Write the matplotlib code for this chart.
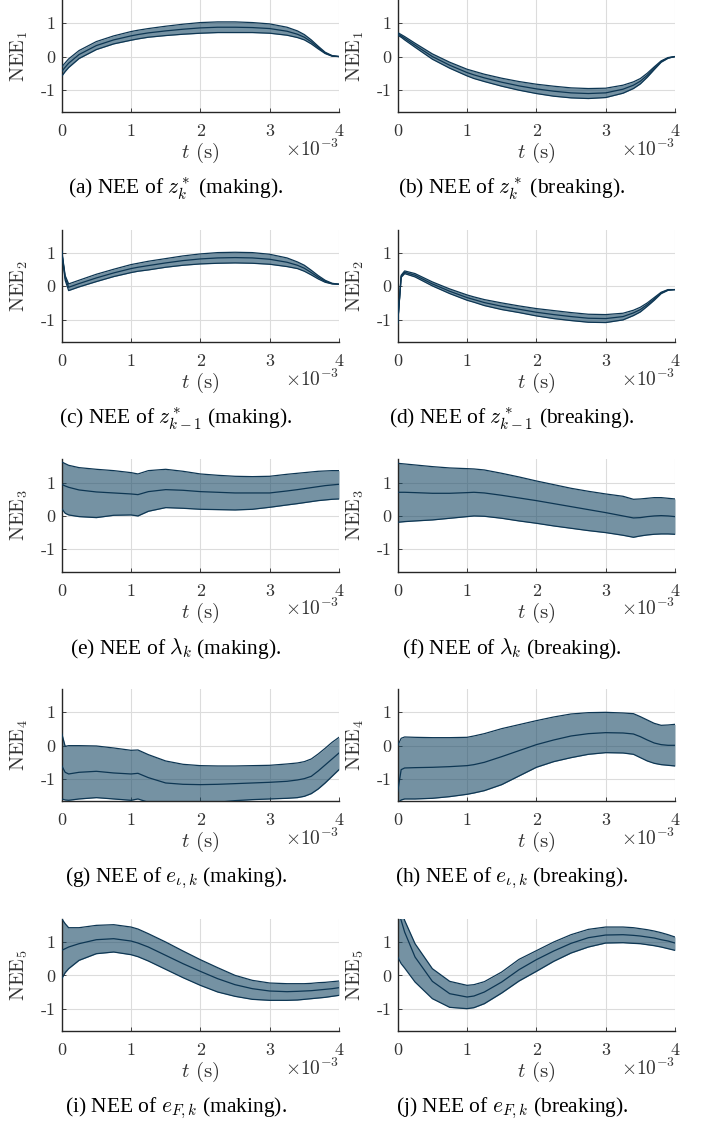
import numpy as np
import matplotlib
matplotlib.use('Agg')
from matplotlib import pyplot as plt

plt.rcParams['mathtext.fontset'] = 'cm'
plt.rcParams['font.family'] = ['Liberation Serif', 'DejaVu Serif']
plt.rcParams['axes.unicode_minus'] = False

# time axis (x 1e-3 s)
t_ms = [0, 0.05, 0.1, 0.25, 0.5, 0.75, 1.0, 1.1, 1.25, 1.5, 1.75, 2.0, 2.25, 2.5,
        2.75, 3.0, 3.25, 3.4, 3.5, 3.6, 3.7, 3.8, 3.9, 4.0]

# (a) z_k^* making
a_mid = [-0.45, -0.32, -0.2, 0.06, 0.33, 0.5, 0.62, 0.66, 0.71, 0.77, 0.82, 0.86, 0.88, 0.88,
         0.87, 0.84, 0.76, 0.67, 0.58, 0.44, 0.27, 0.11, 0.02, 0.0]
a_lo = [-0.59, -0.45, -0.33, -0.06, 0.21, 0.38, 0.49, 0.53, 0.58, 0.63, 0.67, 0.70, 0.72, 0.72,
        0.72, 0.70, 0.64, 0.57, 0.50, 0.38, 0.23, 0.09, 0.01, 0.0]
a_hi = [-0.31, -0.19, -0.07, 0.18, 0.45, 0.62, 0.75, 0.79, 0.84, 0.91, 0.97, 1.02, 1.04, 1.04,
        1.02, 0.98, 0.88, 0.77, 0.66, 0.50, 0.31, 0.13, 0.03, 0.0]

# (b) z_k^* breaking
b_mid = [0.68, 0.62, 0.55, 0.34, 0.0, -0.26, -0.48, -0.55, -0.64, -0.77, -0.88, -0.97, -1.04, -1.09,
         -1.11, -1.09, -0.98, -0.86, -0.74, -0.56, -0.35, -0.15, -0.04, 0.0]
b_lo = [0.64, 0.58, 0.50, 0.28, -0.08, -0.35, -0.58, -0.66, -0.75, -0.89, -1.01, -1.11, -1.19, -1.24,
        -1.26, -1.23, -1.10, -0.96, -0.82, -0.62, -0.39, -0.17, -0.05, 0.0]
b_hi = [0.72, 0.66, 0.60, 0.40, 0.08, -0.17, -0.38, -0.44, -0.53, -0.65, -0.75, -0.83, -0.89, -0.94,
        -0.96, -0.95, -0.86, -0.76, -0.66, -0.50, -0.31, -0.13, -0.03, 0.0]

# (c) z_{k-1}^* making
c_mid = [1.05, 0.25, -0.03, 0.08, 0.25, 0.4, 0.53, 0.57, 0.62, 0.7, 0.77, 0.82, 0.85, 0.86,
         0.85, 0.81, 0.72, 0.63, 0.54, 0.41, 0.27, 0.15, 0.08, 0.06]
c_lo = [1.03, 0.18, -0.13, -0.02, 0.14, 0.29, 0.41, 0.45, 0.49, 0.57, 0.63, 0.67, 0.69, 0.70,
        0.69, 0.66, 0.59, 0.53, 0.45, 0.34, 0.22, 0.12, 0.07, 0.06]
c_hi = [1.07, 0.32, 0.07, 0.18, 0.36, 0.51, 0.65, 0.69, 0.75, 0.83, 0.91, 0.97, 1.01, 1.02,
        1.01, 0.96, 0.85, 0.73, 0.63, 0.48, 0.32, 0.18, 0.09, 0.06]

# (d) z_{k-1}^* breaking
d_mid = [-1.1, 0.3, 0.42, 0.33, 0.07, -0.15, -0.34, -0.4, -0.49, -0.6, -0.69, -0.78, -0.85, -0.91,
         -0.96, -0.97, -0.91, -0.8, -0.7, -0.55, -0.38, -0.2, -0.11, -0.1]
d_lo = [-1.12, 0.27, 0.38, 0.28, 0.01, -0.22, -0.42, -0.48, -0.58, -0.70, -0.79, -0.89, -0.97, -1.03,
        -1.08, -1.09, -1.01, -0.88, -0.77, -0.60, -0.42, -0.22, -0.12, -0.10]
d_hi = [-1.08, 0.33, 0.46, 0.38, 0.13, -0.08, -0.26, -0.32, -0.40, -0.50, -0.59, -0.67, -0.73, -0.79,
        -0.84, -0.85, -0.81, -0.72, -0.63, -0.50, -0.34, -0.18, -0.10, -0.10]

# (e) lambda_k making
e_mid = [0.95, 0.9, 0.86, 0.78, 0.72, 0.69, 0.66, 0.64, 0.73, 0.79, 0.77, 0.73, 0.71, 0.69,
         0.69, 0.69, 0.75, 0.79, 0.82, 0.85, 0.88, 0.91, 0.93, 0.95]
e_lo = [0.22, 0.08, 0.03, -0.02, -0.05, 0.02, 0.03, 0.0, 0.14, 0.25, 0.23, 0.2, 0.19, 0.18,
        0.2, 0.26, 0.33, 0.37, 0.4, 0.43, 0.46, 0.48, 0.5, 0.51]
e_hi = [1.62, 1.57, 1.52, 1.45, 1.4, 1.36, 1.3, 1.26, 1.36, 1.4, 1.34, 1.26, 1.22, 1.19,
        1.18, 1.19, 1.25, 1.28, 1.3, 1.32, 1.34, 1.35, 1.36, 1.36]

# (f) lambda_k breaking
f_mid = [0.71, 0.71, 0.71, 0.7, 0.68, 0.68, 0.7, 0.71, 0.69, 0.62, 0.54, 0.46, 0.37, 0.28,
         0.19, 0.1, 0.0, -0.06, -0.05, -0.02, 0.0, 0.01, 0.0, -0.02]
f_lo = [-0.19, -0.18, -0.17, -0.15, -0.12, -0.07, -0.02, 0.0, -0.01, -0.07, -0.15, -0.22, -0.3, -0.37,
        -0.44, -0.5, -0.58, -0.64, -0.6, -0.57, -0.55, -0.54, -0.54, -0.55]
f_hi = [1.58, 1.57, 1.56, 1.53, 1.48, 1.44, 1.42, 1.41, 1.38, 1.28, 1.17, 1.05, 0.94, 0.83,
        0.74, 0.66, 0.59, 0.5, 0.51, 0.53, 0.55, 0.55, 0.53, 0.51]

# (g) e_iota,k making
g_mid = [-0.6, -0.8, -0.85, -0.8, -0.77, -0.82, -0.85, -0.83, -0.96, -1.12, -1.16, -1.17, -1.16, -1.14,
         -1.12, -1.1, -1.07, -1.03, -0.99, -0.92, -0.76, -0.58, -0.4, -0.22]
g_lo = [-1.6, -1.63, -1.64, -1.6, -1.56, -1.6, -1.64, -1.6, -1.7, -1.75, -1.76, -1.74, -1.7, -1.65,
        -1.62, -1.6, -1.58, -1.56, -1.52, -1.44, -1.3, -1.12, -0.92, -0.72]
g_hi = [0.37, -0.02, 0.0, 0.0, -0.01, -0.07, -0.14, -0.13, -0.27, -0.46, -0.56, -0.6, -0.61, -0.61,
        -0.6, -0.59, -0.55, -0.52, -0.48, -0.4, -0.25, -0.08, 0.1, 0.25]

# (h) e_iota,k breaking
h_mid = [-1.38, -0.72, -0.67, -0.66, -0.65, -0.63, -0.6, -0.57, -0.5, -0.33, -0.15, 0.03, 0.17, 0.29,
         0.36, 0.39, 0.38, 0.35, 0.27, 0.17, 0.08, 0.03, 0.01, 0.01]
h_lo = [-1.72, -1.63, -1.6, -1.6, -1.58, -1.53, -1.46, -1.42, -1.35, -1.17, -0.91, -0.65, -0.48, -0.36,
        -0.26, -0.21, -0.22, -0.26, -0.36, -0.46, -0.53, -0.57, -0.59, -0.61]
h_hi = [0.0, 0.22, 0.26, 0.25, 0.24, 0.24, 0.25, 0.29, 0.36, 0.51, 0.63, 0.75, 0.86, 0.95,
        0.99, 1.0, 0.98, 0.96, 0.87, 0.77, 0.67, 0.61, 0.62, 0.64]

# (i) e_F,k making
i_mid = [0.75, 0.8, 0.85, 0.95, 1.07, 1.1, 1.03, 0.97, 0.85, 0.6, 0.35, 0.12, -0.1, -0.28,
         -0.4, -0.47, -0.49, -0.48, -0.47, -0.46, -0.44, -0.42, -0.4, -0.37]
i_lo = [-0.1, 0.08, 0.2, 0.45, 0.65, 0.7, 0.62, 0.56, 0.43, 0.18, -0.07, -0.3, -0.5, -0.63,
        -0.72, -0.75, -0.75, -0.74, -0.72, -0.7, -0.68, -0.66, -0.63, -0.6]
i_hi = [1.7, 1.55, 1.43, 1.43, 1.5, 1.52, 1.45, 1.39, 1.25, 1.0, 0.73, 0.47, 0.23, 0.0,
        -0.15, -0.23, -0.25, -0.25, -0.25, -0.24, -0.22, -0.21, -0.19, -0.17]

# (j) e_F,k breaking
j_mid = [1.95, 1.65, 1.3, 0.55, -0.18, -0.55, -0.65, -0.62, -0.5, -0.2, 0.17, 0.47, 0.73, 0.96,
         1.13, 1.21, 1.22, 1.2, 1.18, 1.15, 1.12, 1.07, 1.03, 0.97]
j_lo = [0.55, 0.35, 0.22, -0.2, -0.7, -0.96, -1.0, -0.97, -0.85, -0.53, -0.17, 0.12, 0.42, 0.67,
        0.85, 0.97, 0.98, 0.96, 0.95, 0.92, 0.89, 0.85, 0.8, 0.75]
j_hi = [2.3, 2.0, 1.65, 0.95, 0.2, -0.18, -0.3, -0.28, -0.19, 0.1, 0.48, 0.74, 1.0, 1.22,
        1.38, 1.45, 1.45, 1.43, 1.4, 1.37, 1.33, 1.28, 1.22, 1.15]

ylabels = [r'$\mathrm{NEE}_1$', r'$\mathrm{NEE}_1$', r'$\mathrm{NEE}_2$', r'$\mathrm{NEE}_2$',
           r'$\mathrm{NEE}_3$', r'$\mathrm{NEE}_3$', r'$\mathrm{NEE}_4$', r'$\mathrm{NEE}_4$',
           r'$\mathrm{NEE}_5$', r'$\mathrm{NEE}_5$']
captions = [r'(a) NEE of $z_k^*$ (making).', r'(b) NEE of $z_k^*$ (breaking).',
            r'(c) NEE of $z_{k-1}^*$ (making).', r'(d) NEE of $z_{k-1}^*$ (breaking).',
            r'(e) NEE of $\lambda_k$ (making).', r'(f) NEE of $\lambda_k$ (breaking).',
            r'(g) NEE of $e_{\iota,k}$ (making).', r'(h) NEE of $e_{\iota,k}$ (breaking).',
            r'(i) NEE of $e_{F,k}$ (making).', r'(j) NEE of $e_{F,k}$ (breaking).']
x_ticks = [0, 1, 2, 3, 4]
x_ticklabels = ['0', '1', '2', '3', '4']
y_ticks = [-1, 0, 1]
y_ticklabels = ['-1', '0', '1']

panels = [(a_lo, a_mid, a_hi), (b_lo, b_mid, b_hi), (c_lo, c_mid, c_hi), (d_lo, d_mid, d_hi),
          (e_lo, e_mid, e_hi), (f_lo, f_mid, f_hi), (g_lo, g_mid, g_hi), (h_lo, h_mid, h_hi),
          (i_lo, i_mid, i_hi), (j_lo, j_mid, j_hi)]

W, H = 702, 1122
fig = plt.figure(figsize=(W / 100, H / 100), dpi=100)
line_c = '#0d3653'
fill_c = '#1a4a66'
txt_c = '#333333'
px = 0.72  # points per pixel

for k, (lo, mid, hi) in enumerate(panels):
    r, c = divmod(k, 2)
    x0 = [61.7, 397.7][c]
    w = 277.3
    top = -0.1 + 229.7 * r
    h = 112.3
    ax = fig.add_axes([x0 / W, 1 - (top + h) / H, w / W, h / H])
    ax.fill_between(t_ms, lo, hi, color=fill_c, alpha=0.6, lw=0, zorder=2)
    ax.plot(t_ms, lo, color=line_c, lw=0.9, zorder=3)
    ax.plot(t_ms, hi, color=line_c, lw=0.9, zorder=3)
    ax.plot(t_ms, mid, color=line_c, lw=0.9, zorder=3)
    ax.set_xlim(0, 4)
    ax.set_ylim(-1.67, 1.7)
    ax.set_xticks(x_ticks, labels=x_ticklabels)
    ax.set_yticks(y_ticks, labels=y_ticklabels)
    for lab in ax.get_xticklabels() + ax.get_yticklabels():
        lab.set_fontfamily('cmr10')
        lab.set_fontsize(13)
        lab.set_color(txt_c)
    ax.tick_params(direction='in', length=3, width=0.6, colors='#262626', labelcolor=txt_c)
    ax.tick_params(axis='x', pad=8.5)
    ax.tick_params(axis='y', pad=4.5)
    ax.grid(True, color='#dcdcdc', lw=0.8)
    ax.set_axisbelow(True)
    for s in ['top', 'right']:
        ax.spines[s].set_visible(False)
    for s in ['left', 'bottom']:
        ax.spines[s].set_color('#262626')
        ax.spines[s].set_linewidth(1.0)
    ax.annotate(r'$t$ (s)', xy=(0.5, 0), xycoords='axes fraction', xytext=(0, -41 * px),
                textcoords='offset points', ha='center', va='center', fontsize=15,
                family='cmr10', color=txt_c)
    ax.annotate(r'$\times10^{-3}$', xy=(1, 0), xycoords='axes fraction', xytext=(0, -37 * px),
                textcoords='offset points', ha='right', va='center', fontsize=14, color=txt_c)
    ax.annotate(ylabels[k], xy=(0, 0.5), xycoords='axes fraction', xytext=(-42 * px, 0),
                textcoords='offset points', ha='center', va='center', rotation=90,
                fontsize=14.5, color=txt_c)
    cx = [176, 512][c]
    fig.text(cx / W, 1 - (top + h + 77) / H, captions[k], ha='center', va='center',
             fontsize=15.5, color='black')

fig.savefig('out.png', dpi=100)
